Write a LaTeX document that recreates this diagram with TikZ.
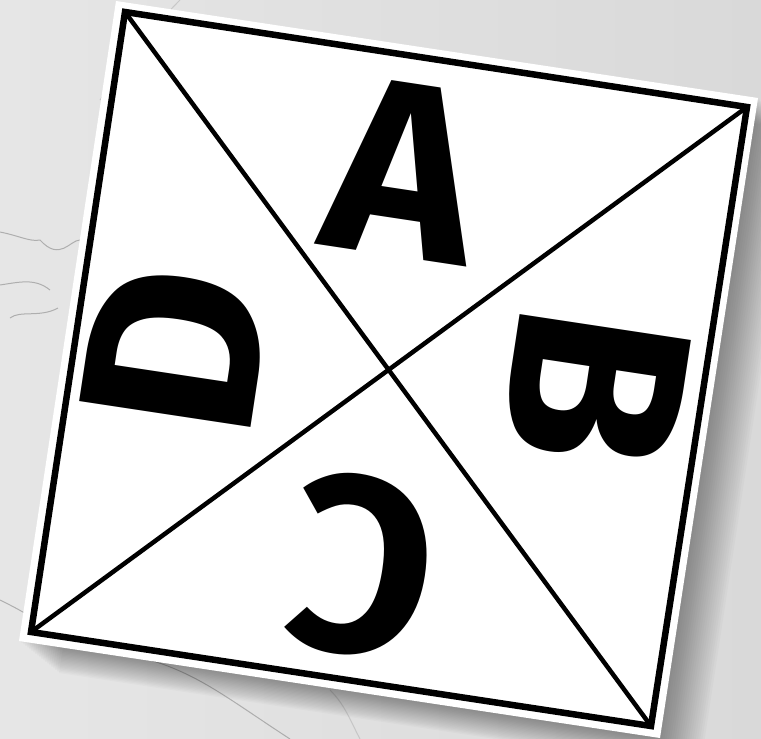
\documentclass[tikz,border=0pt]{standalone}
\usepackage{fontspec}
\newfontfamily\letterfont{Fira Sans}
\usetikzlibrary{calc}
\definecolor{marble}{HTML}{D9D9D9}
\definecolor{marblelight}{HTML}{E6E6E6}
\definecolor{vein}{HTML}{8A8A8A}
\tikzset{
  cardline/.style={line width=6.5pt, line join=miter},
  diag/.style={line width=4.5pt},
  letter/.style={font=\letterfont\bfseries\fontsize{250}{250}\selectfont, inner sep=0pt, text=black},
  veinline/.style={draw=vein, line width=1pt, opacity=0.6},
}
\begin{document}
\begin{tikzpicture}[x=1pt,y=-1pt]
\useasboundingbox (0,0) rectangle (761,739);
\shade[left color=marblelight, right color=marble] (0,0) rectangle (761,739);
% marble veins
\draw[veinline] (0,232) .. controls (20,236) and (30,242) .. (40,240) .. controls (60,262) and (70,240) .. (80,240);
\draw[veinline] (0,285) .. controls (20,282) and (35,278) .. (50,290);
\draw[veinline] (10,318) .. controls (20,310) and (40,318) .. (58,308);
\draw[veinline] (0,600) .. controls (20,610) and (40,620) .. (60,640);
\draw[veinline] (150,660) .. controls (200,675) and (230,700) .. (290,739);
\draw[veinline, opacity=0.3] (330,690) .. controls (345,705) and (350,720) .. (360,739);
\draw[veinline, opacity=0.3] (180,0) .. controls (150,30) and (130,60) .. (100,100);
% corners of the card (white) and of the black frame
\coordinate (wTL) at (116,1);
\coordinate (wTR) at (758,98);
\coordinate (wBR) at (660,738);
\coordinate (wBL) at (19,641);
\coordinate (TL) at (125,12);
\coordinate (TR) at (747,107);
\coordinate (BR) at (651,726);
\coordinate (BL) at (31,632);
% soft shadow
\foreach \i in {1,...,20}{
  \fill[black, opacity=0.02] ($(wTL)+(2*\i,1.6*\i)$) -- ($(wTR)+(2*\i,1.6*\i)$) -- ($(wBR)+(2*\i,1.6*\i)$) -- ($(wBL)+(2*\i,1.6*\i)$) -- cycle;
}
% card
\fill[white] (wTL) -- (wTR) -- (wBR) -- (wBL) -- cycle;
\draw[diag] (TL) -- (BR);
\draw[diag] (TR) -- (BL);
\draw[cardline] (TL) -- (TR) -- (BR) -- (BL) -- cycle;
% letters
\node[letter, rotate=-8.6] (A) at (403,170) {A};
\node[letter, rotate=-98.6] (B) at (597,388) {B};
\node[letter, rotate=171.4] (C) at (362,566) {C};
\node[letter, rotate=81.4] (D) at (175,350) {D};
\end{tikzpicture}
\end{document}
